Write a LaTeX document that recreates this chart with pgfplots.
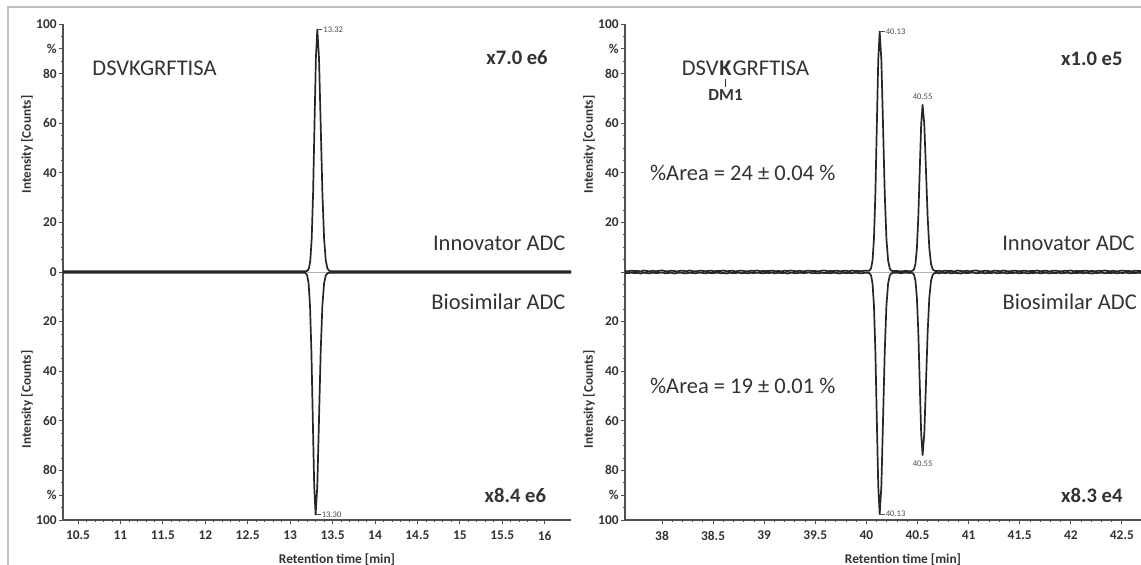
\documentclass[border=0pt]{standalone}
\usepackage{fontspec}
\setmainfont{Carlito}
\usepackage{pgfplots}
\pgfplotsset{compat=1.18}
\usetikzlibrary{calc}
\definecolor{txt}{HTML}{333333}
\definecolor{axc}{HTML}{505050}
\tikzset{
  trace/.style={black!85, line width=0.85pt, line join=round},
  big/.style={font=\fontsize{11.25}{12}\selectfont, text=txt, inner sep=0pt},
  mult/.style={font=\fontsize{10.3}{11}\selectfont\bfseries, text=txt, inner sep=0pt},
  pk/.style={font=\fontsize{4.3}{5}\selectfont, text=black!70, inner sep=0.4pt},
  ylab/.style={font=\fontsize{6.6}{7}\selectfont\bfseries, text=txt, rotate=90},
}
\pgfplotsset{chrom/.style={
  scale only axis, height=248pt, ymin=-100, ymax=100,
  axis x line*=bottom, axis y line*=left,
  axis line style={draw=axc, line width=0.7pt, -},
  ytick={-100,-90,-80,-60,-40,-20,0,20,40,60,80,90,100},
  minor ytick={-95,-85,-75,-70,-65,-55,-50,-45,-35,-30,-25,-15,-10,-5,5,10,15,25,30,35,45,50,55,65,70,75,85,95},
  minor x tick num=4,
  tick align=outside, major tick length=2pt, minor tick length=1.2pt,
  tick style={axc, line width=0.4pt},
  ticklabel style={font=\fontsize{6.7}{7}\selectfont\bfseries, text=txt},
  yticklabel style={inner sep=1pt},
  xlabel={Retention time [min]},
  xlabel style={font=\fontsize{6.7}{7}\selectfont\bfseries, text=txt, xshift=10pt},
  clip=false,
}}
\begin{document}
\begin{tikzpicture}
\useasboundingbox (0,0) rectangle (570.5pt,282.5pt);
\fill[white] (0,0) rectangle (570.5pt,282.5pt);
\draw[gray!50, line width=0.7pt] (4pt,0) -- (4pt,279pt) -- (570.5pt,279pt);

% ---------------- left panel ----------------
\begin{axis}[chrom, at={(31.5pt,22.5pt)}, anchor=south west, width=254pt,
  xmin=10.323, xmax=16.31,
  xtick={10.5,11,11.5,12,12.5,13,13.5,14,14.5,15,15.5,16},
  xticklabels={10.5,11,11.5,12,12.5,13,13.5,14,14.5,15,15.5,16},
  yticklabels={100,\%,80,60,40,20,0,20,40,60,80,\%,100}]
\addplot[gray!60, line width=0.4pt] coordinates {(10.323,0) (16.31,0)};
\addplot[trace] coordinates {
(10.323,0.3) (11.0,0.3) (12.0,0.3) (13.0,0.3) (13.15,0.3) (13.188,0.33) (13.2045,0.5)
(13.221,1.38) (13.2375,4.58) (13.254,13.49) (13.2705,31.96) (13.287,59.43) (13.3035,86.34)
(13.32,97.8) (13.34,86.34) (13.36,59.43) (13.38,31.96) (13.40,13.49) (13.42,4.58)
(13.44,1.38) (13.46,0.5) (13.48,0.33) (13.55,0.3) (14.5,0.3) (16.31,0.3)};
\addplot[trace] coordinates {
(10.323,-0.3) (11.0,-0.3) (12.0,-0.3) (13.0,-0.3) (13.13,-0.3) (13.168,-0.33) (13.1845,-0.5)
(13.201,-1.38) (13.2175,-4.58) (13.234,-13.49) (13.2505,-31.96) (13.267,-59.43) (13.2835,-86.34)
(13.30,-97.8) (13.32,-86.34) (13.34,-59.43) (13.36,-31.96) (13.38,-13.49) (13.40,-4.58)
(13.42,-1.38) (13.44,-0.5) (13.46,-0.33) (13.55,-0.3) (14.5,-0.3) (16.31,-0.3)};
\coordinate (La) at (axis cs:13.32,97.8);
\coordinate (Lb) at (axis cs:13.30,-97.8);
\coordinate (Ly1) at (rel axis cs:0,0.757);
\coordinate (Ly2) at (rel axis cs:0,0.243);
\node[big, anchor=base west] at (axis cs:10.665,79.4) {DSVKGRFTISA};
\node[big, anchor=east] at (axis cs:16.25,11.5) {Innovator ADC};
\node[big, anchor=east] at (axis cs:16.25,-12) {Biosimilar ADC};
\node[mult, anchor=east] at (axis cs:16.04,86.5) {x7.0 e6};
\node[mult, anchor=east] at (axis cs:16.02,-90) {x8.4 e6};
\end{axis}

% ---------------- right panel ----------------
\begin{axis}[chrom, at={(312.5pt,22.5pt)}, anchor=south west, width=258pt,
  xmin=37.638, xmax=42.687,
  xtick={38,38.5,39,39.5,40,40.5,41,41.5,42,42.5},
  xticklabels={38,38.5,39,39.5,40,40.5,41,41.5,42,42.5},
  yticklabels={100,\%,80,60,40,20,{},20,40,60,80,\%,100}]
\addplot[gray!60, line width=0.4pt] coordinates {(37.638,0) (42.687,0)};
\addplot[trace] coordinates {
(37.64,0.4) (37.67,0.25) (37.70,0.55) (37.73,0.35) (37.76,0.45) (37.79,0.2) (37.82,0.6) (37.85,0.4)
(37.88,0.3) (37.91,0.5) (37.94,0.25) (37.97,0.45) (38.00,0.65) (38.03,0.35) (38.06,0.3) (38.09,0.5)
(38.12,0.4) (38.15,0.2) (38.18,0.55) (38.21,0.45) (38.24,0.3) (38.27,0.6) (38.30,0.35) (38.33,0.25)
(38.36,0.45) (38.39,0.5) (38.42,0.3) (38.45,0.4) (38.48,0.55) (38.51,0.25) (38.54,0.45) (38.57,0.35)
(38.60,0.6) (38.63,0.3) (38.66,0.4) (38.69,0.5) (38.72,0.2) (38.75,0.45) (38.78,0.55) (38.81,0.35)
(38.84,0.25) (38.87,0.5) (38.90,0.4) (38.93,0.6) (38.96,0.3) (38.99,0.45) (39.02,0.35) (39.05,0.4)
(39.08,0.55) (39.11,0.3) (39.14,0.45) (39.17,0.25) (39.20,0.5) (39.23,0.35) (39.26,0.6) (39.29,0.4)
(39.32,0.3) (39.35,0.5) (39.38,0.2) (39.41,0.45) (39.44,0.55) (39.47,0.35) (39.50,0.4) (39.53,0.25)
(39.56,0.5) (39.59,0.6) (39.62,0.3) (39.65,0.45) (39.68,0.35) (39.71,0.55) (39.74,0.25) (39.77,0.4)
(39.80,0.5) (39.83,0.3) (39.86,0.6) (39.89,0.35) (39.92,0.45) (39.95,0.3) (39.98,0.5)
(40.018,0.45) (40.032,0.6) (40.046,1.5) (40.06,4.6) (40.074,13.4) (40.088,31.7) (40.102,58.9)
(40.116,85.5) (40.13,96.9) (40.1465,85.5) (40.163,58.9) (40.1795,31.7) (40.196,13.4)
(40.2125,4.6) (40.229,1.4) (40.2455,0.5) (40.262,0.35)
(40.30,0.4) (40.34,0.25) (40.38,0.45) (40.42,0.3)
(40.438,0.35) (40.452,0.5) (40.466,1.05) (40.48,3.25) (40.494,9.45) (40.508,22.1) (40.522,41.0)
(40.536,59.5) (40.55,67.4) (40.5665,59.5) (40.583,41.0) (40.5995,22.1) (40.616,9.45)
(40.6325,3.25) (40.649,1.05) (40.6655,0.5) (40.682,0.35)
(40.71,0.5) (40.74,0.25) (40.77,0.55) (40.80,0.35) (40.83,0.45) (40.86,0.2) (40.89,0.6) (40.92,0.4)
(40.95,0.3) (40.98,0.5) (41.01,0.25) (41.04,0.45) (41.07,0.65) (41.10,0.35) (41.13,0.3) (41.16,0.5)
(41.19,0.4) (41.22,0.2) (41.25,0.55) (41.28,0.45) (41.31,0.3) (41.34,0.6) (41.37,0.35) (41.40,0.25)
(41.43,0.45) (41.46,0.5) (41.49,0.3) (41.52,0.4) (41.55,0.55) (41.58,0.25) (41.61,0.45) (41.64,0.35)
(41.67,0.6) (41.70,0.3) (41.73,0.4) (41.76,0.5) (41.79,0.2) (41.82,0.45) (41.85,0.55) (41.88,0.35)
(41.91,0.25) (41.94,0.5) (41.97,0.4) (42.00,0.6) (42.03,0.3) (42.06,0.45) (42.09,0.35) (42.12,0.4)
(42.15,0.55) (42.18,0.3) (42.21,0.45) (42.24,0.25) (42.27,0.5) (42.30,0.35) (42.33,0.6) (42.36,0.4)
(42.39,0.3) (42.42,0.5) (42.45,0.2) (42.48,0.45) (42.51,0.55) (42.54,0.35) (42.57,0.4) (42.60,0.25)
(42.63,0.5) (42.66,0.4) (42.687,0.35)};
\addplot[trace] coordinates {
(37.64,-0.3) (37.67,-0.5) (37.70,-0.25) (37.73,-0.45) (37.76,-0.35) (37.79,-0.6) (37.82,-0.3) (37.85,-0.4)
(37.88,-0.55) (37.91,-0.25) (37.94,-0.45) (37.97,-0.35) (38.00,-0.2) (38.03,-0.5) (38.06,-0.4) (38.09,-0.3)
(38.12,-0.6) (38.15,-0.35) (38.18,-0.25) (38.21,-0.45) (38.24,-0.55) (38.27,-0.3) (38.30,-0.4) (38.33,-0.5)
(38.36,-0.25) (38.39,-0.35) (38.42,-0.55) (38.45,-0.3) (38.48,-0.45) (38.51,-0.4) (38.54,-0.25) (38.57,-0.5)
(38.60,-0.35) (38.63,-0.6) (38.66,-0.3) (38.69,-0.45) (38.72,-0.4) (38.75,-0.25) (38.78,-0.5) (38.81,-0.35)
(38.84,-0.55) (38.87,-0.3) (38.90,-0.45) (38.93,-0.25) (38.96,-0.4) (38.99,-0.5) (39.02,-0.35) (39.05,-0.4)
(39.08,-0.3) (39.11,-0.55) (39.14,-0.25) (39.17,-0.45) (39.20,-0.35) (39.23,-0.6) (39.26,-0.3) (39.29,-0.4)
(39.32,-0.5) (39.35,-0.25) (39.38,-0.45) (39.41,-0.35) (39.44,-0.2) (39.47,-0.5) (39.50,-0.4) (39.53,-0.55)
(39.56,-0.3) (39.59,-0.45) (39.62,-0.35) (39.65,-0.5) (39.68,-0.25) (39.71,-0.4) (39.74,-0.6) (39.77,-0.3)
(39.80,-0.45) (39.83,-0.35) (39.86,-0.5) (39.89,-0.25) (39.92,-0.4) (39.95,-0.55) (39.98,-0.35)
(40.018,-0.35) (40.032,-0.55) (40.046,-1.45) (40.06,-4.65) (40.074,-13.55) (40.088,-32.05) (40.102,-59.45)
(40.116,-86.35) (40.13,-97.65) (40.1465,-86.35) (40.163,-59.45) (40.1795,-32.05) (40.196,-13.55)
(40.2125,-4.65) (40.229,-1.45) (40.2455,-0.55) (40.262,-0.35)
(40.30,-0.3) (40.34,-0.45) (40.38,-0.25) (40.42,-0.4)
(40.438,-0.3) (40.452,-0.5) (40.466,-1.1) (40.48,-3.5) (40.494,-10.2) (40.508,-24.2) (40.522,-44.9)
(40.536,-65.2) (40.55,-73.8) (40.5665,-65.2) (40.583,-44.9) (40.5995,-24.2) (40.616,-10.2)
(40.6325,-3.5) (40.649,-1.1) (40.6655,-0.5) (40.682,-0.3)
(40.71,-0.5) (40.74,-0.3) (40.77,-0.45) (40.80,-0.25) (40.83,-0.55) (40.86,-0.35) (40.89,-0.4) (40.92,-0.6)
(40.95,-0.3) (40.98,-0.45) (41.01,-0.35) (41.04,-0.2) (41.07,-0.5) (41.10,-0.4) (41.13,-0.3) (41.16,-0.55)
(41.19,-0.35) (41.22,-0.45) (41.25,-0.25) (41.28,-0.5) (41.31,-0.4) (41.34,-0.3) (41.37,-0.55) (41.40,-0.35)
(41.43,-0.45) (41.46,-0.25) (41.49,-0.5) (41.52,-0.4) (41.55,-0.3) (41.58,-0.6) (41.61,-0.35) (41.64,-0.45)
(41.67,-0.25) (41.70,-0.5) (41.73,-0.4) (41.76,-0.3) (41.79,-0.55) (41.82,-0.35) (41.85,-0.45) (41.88,-0.25)
(41.91,-0.5) (41.94,-0.4) (41.97,-0.3) (42.00,-0.55) (42.03,-0.35) (42.06,-0.45) (42.09,-0.25) (42.12,-0.5)
(42.15,-0.3) (42.18,-0.45) (42.21,-0.6) (42.24,-0.35) (42.27,-0.4) (42.30,-0.25) (42.33,-0.5) (42.36,-0.35)
(42.39,-0.45) (42.42,-0.3) (42.45,-0.55) (42.48,-0.35) (42.51,-0.4) (42.54,-0.25) (42.57,-0.5) (42.60,-0.35)
(42.63,-0.45) (42.66,-0.3) (42.687,-0.4)};
\coordinate (Ra) at (axis cs:40.13,96.9);
\coordinate (Rb) at (axis cs:40.13,-97.65);
\coordinate (Rc) at (axis cs:40.55,69);
\coordinate (Rd) at (axis cs:40.55,-75.5);
\coordinate (Rseq) at (axis cs:38.19,79.4);
\coordinate (Ry1) at (rel axis cs:0,0.757);
\coordinate (Ry2) at (rel axis cs:0,0.243);
\node[big, anchor=west] at (axis cs:37.88,40) {\%Area = 24 ± 0.04 \%};
\node[big, anchor=west] at (axis cs:37.88,-46) {\%Area = 19 ± 0.01 \%};
\node[big, anchor=east] at (axis cs:42.63,11.5) {Innovator ADC};
\node[big, anchor=east] at (axis cs:42.65,-12) {Biosimilar ADC};
\node[mult, anchor=east] at (axis cs:42.51,86) {x1.0 e5};
\node[mult, anchor=east] at (axis cs:42.51,-90) {x8.3 e4};
\end{axis}

% ---------------- annotations ----------------
\draw[black!70, line width=0.35pt] (La) -- ([xshift=2.5pt]La) node[pk, anchor=west] {13.32};
\draw[black!70, line width=0.35pt] (Lb) -- ([xshift=2.5pt]Lb) node[pk, anchor=west] {13.30};
\draw[black!70, line width=0.35pt] (Ra) -- ([xshift=2.5pt]Ra) node[pk, anchor=west] {40.13};
\draw[black!70, line width=0.35pt] (Rb) -- ([xshift=2.5pt]Rb) node[pk, anchor=west] {40.13};
\node[pk, anchor=south] at (Rc) {40.55};
\node[pk, anchor=north] at (Rd) {40.55};
\node[ylab] at ([xshift=-18pt]Ly1) {Intensity [Counts]};
\node[ylab] at ([xshift=-18pt]Ly2) {Intensity [Counts]};
\node[ylab] at ([xshift=-18pt]Ry1) {Intensity [Counts]};
\node[ylab] at ([xshift=-18pt]Ry2) {Intensity [Counts]};
\node[big, anchor=base west] (d1) at (Rseq) {DSV};
\node[big, anchor=base west] (kk) at (d1.base east) {\bfseries K};
\node[big, anchor=base west] at (kk.base east) {GRFTISA};
\draw[txt, line width=0.9pt] ([yshift=-2pt]kk.base) -- ([yshift=-6pt]kk.base);
\node[font=\fontsize{8.5}{9}\selectfont\bfseries, text=txt, inner sep=0pt, anchor=north] at ([yshift=-7pt]kk.base) {DM1};
\end{tikzpicture}
\end{document}
